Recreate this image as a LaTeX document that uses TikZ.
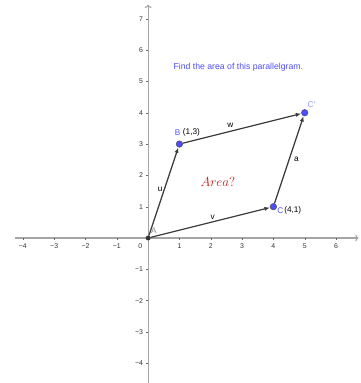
\documentclass[tikz,border=0pt]{standalone}
\usepackage{fontspec}
\setsansfont{Liberation Sans}
\usetikzlibrary{arrows.meta, positioning, calc}
\definecolor{ptblue}{RGB}{77,77,255}
\definecolor{lblblue}{RGB}{80,80,255}
\definecolor{axisgray}{RGB}{165,165,165}
\definecolor{vecgray}{RGB}{60,60,60}
\definecolor{areared}{RGB}{210,20,20}

\tikzset{
  ticklbl/.style={font=\sffamily\fontsize{6.3}{7}\selectfont, text=black!80, inner sep=1pt},
  ptlbl/.style={font=\sffamily\fontsize{7.5}{9}\selectfont, inner sep=0pt},
  vec/.style={vecgray, line width=1.1pt, -{Latex[length=5pt,width=3.8pt]}},
  bluept/.style={circle, fill=ptblue, draw=black!70, line width=0.4pt, minimum size=6pt, inner sep=0pt},
}

\begin{document}
\begin{tikzpicture}[x=1cm, y=1cm]
  \useasboundingbox (-4.73,-4.63) rectangle (6.77,7.60);
  % axes
  \draw[axisgray, line width=1pt, -{To[length=3pt]}] (-4.26,0) -- (6.72,0);
  \draw[axisgray, line width=1pt, -{To[length=3pt]}] (0,-4.7) -- (0,7.45);
  \foreach \i/\t in {-4/−4,-3/−3,-2/−2,-1/−1,1/1,2/2,3/3,4/4,5/5,6/6} {
    \draw[black!60, line width=0.3pt] (\i,0) -- (\i,-0.07);
    \node[ticklbl] at (\i,-0.27) {\t};
  }
  \foreach \j/\t in {-4/−4,-3/−3,-2/−2,-1/−1,1/1,2/2,3/3,4/4,5/5,6/6,7/7} {
    \draw[black!60, line width=0.3pt] (0,\j) -- (-0.07,\j);
    \node[ticklbl, anchor=east] at (-0.12,\j) {\t};
  }
  \node[ticklbl] at (-0.25,-0.27) {0};

  % points
  \node[circle, fill=black!80, minimum size=4.5pt, inner sep=0pt] (A) at (0,0) {};
  \node[bluept] (B) at (1,3) {};
  \node[bluept] (C) at (4,1) {};
  \node[bluept] (Cp) at (5,4) {};

  % vectors
  \draw[vec] (A) -- node[ptlbl, pos=0.52, left=1pt, text=black] {u} (B);
  \draw[vec] (A) -- node[ptlbl, pos=0.52, above=2pt, text=black] {v} (C);
  \draw[vec] (B) -- node[ptlbl, pos=0.4, above=3pt, text=black] {w} (Cp);
  \draw[vec] (C) -- node[ptlbl, pos=0.5, right=4pt, text=black] {a} (Cp);

  % labels
  \node[ptlbl, text=black!45] (labA) at (0.18,0.22) {A};
  \node[ptlbl, text=lblblue] (labB) at (0.94,3.36) {B};
  \node[ptlbl, right=2pt of labB] (crdB) {(1,3)};
  \node[ptlbl, text=lblblue] (labC) at (4.22,0.88) {C};
  \node[ptlbl, right=0.5pt of labC] (crdC) {(4,1)};
  \node[ptlbl, text=lblblue!60] (labCp) at (5.22,4.27) {C'};

  \node[text=areared, font=\fontsize{12}{14}\selectfont] (area) at (2.23,1.8) {$Area?$};
  \node[text=ptblue, font=\sffamily\fontsize{7.9}{9}\selectfont] (task) at (2.88,5.44) {Find the area of this parallelgram.};
\end{tikzpicture}
\end{document}
